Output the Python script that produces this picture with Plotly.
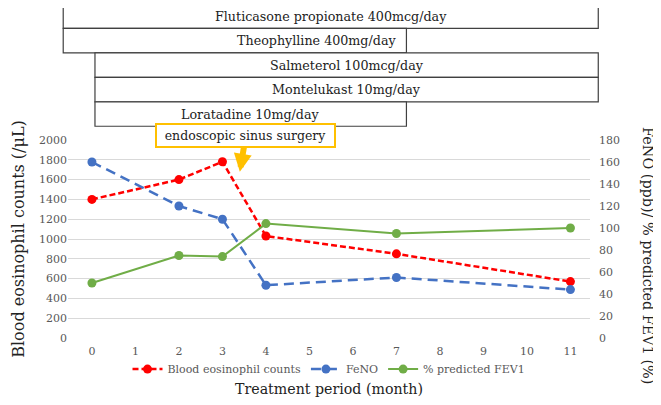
import plotly.graph_objects as go

months = [0, 2, 3, 4, 7, 11]
eosinophil = [1400, 1600, 1780, 1030, 850, 570]
feno = [160, 120, 108, 48, 55, 44]
fev1 = [50, 75, 74, 104, 95, 100]

treat_names = [
    "Fluticasone propionate 400mcg/day",
    "Theophylline 400mg/day",
    "Salmeterol 100mcg/day",
    "Montelukast 10mg/day",
    "Loratadine 10mg/day",
]
treat_start = [-0.66, -0.66, 0.07, 0.07, 0.07]
treat_end = [11.64, 7.23, 11.64, 11.64, 7.23]

surgery_month = 3.4
surgery_label = "endoscopic sinus surgery"

SERIF = "DejaVu Serif"
GRAY = "#595959"
X_RANGE = [-0.55, 11.45]


def month_to_paper(m):
    # boxes run past the plot edges, so place them in paper coords
    return (m - X_RANGE[0]) / (X_RANGE[1] - X_RANGE[0])


fig = go.Figure()

fig.add_trace(go.Scatter(
    x=months, y=eosinophil, name="Blood eosinophil counts",
    mode="lines+markers",
    line=dict(color="#ff0000", width=2.5, dash="6px,3px"),
    marker=dict(size=9, color="#ff0000"),
))
fig.add_trace(go.Scatter(
    x=months, y=feno, name="FeNO", yaxis="y2",
    mode="lines+markers",
    line=dict(color="#4472c4", width=2.5, dash="10px,6px"),
    marker=dict(size=9, color="#4472c4"),
))
fig.add_trace(go.Scatter(
    x=months, y=fev1, name="% predicted FEV1", yaxis="y2",
    mode="lines+markers",
    line=dict(color="#70ad47", width=2),
    marker=dict(size=9, color="#70ad47"),
))

# treatment timeline boxes above the plot
row_h = 0.1235
for i, (name, m0, m1) in enumerate(zip(treat_names, treat_start, treat_end)):
    top = 1.687 - i * row_h
    x0, x1 = month_to_paper(m0), month_to_paper(m1)
    fig.add_shape(type="rect", xref="paper", yref="paper",
                  x0=x0, x1=x1, y0=top - row_h, y1=top,
                  line=dict(color="#404040", width=1.2), fillcolor="white")
    fig.add_annotation(xref="paper", yref="paper", x=(x0 + x1) / 2,
                       y=top - row_h / 2, yanchor="middle", text=name,
                       showarrow=False,
                       font=dict(family=SERIF, size=12.7, color="#222"))

fig.add_annotation(
    x=surgery_month, y=1680, xref="x", yref="y",
    text=surgery_label, showarrow=True,
    ax=6, ay=-36, arrowhead=2, arrowsize=0.6, arrowwidth=6,
    arrowcolor="#ffc000", bordercolor="#ffc000", borderwidth=2,
    borderpad=3, bgcolor="white", width=171,
    font=dict(family=SERIF, size=12.5, color="#222"),
)

fig.add_annotation(
    xref="paper", yref="paper", x=1.111, y=0.414,
    xanchor="center", yanchor="middle",
    text="FeNO (ppb)/ % predicted FEV1 (%)", textangle=90,
    showarrow=False, font=dict(family=SERIF, size=14.4, color="#222"),
)

# the page body adds an 8px offset, so the figure is sized to fit the window
fig.update_layout(
    width=653, height=397,
    plot_bgcolor="white", paper_bgcolor="white",
    font=dict(family=SERIF, color=GRAY, size=11),
    margin=dict(l=60, r=71, t=132, b=67),
    showlegend=True,
    legend=dict(orientation="h", x=0.5, xanchor="center", y=-0.157,
                yanchor="middle", font=dict(size=11, color=GRAY),
                itemwidth=30, tracegroupgap=0),
    xaxis=dict(range=X_RANGE, dtick=1, showgrid=False, automargin=False,
               zeroline=False, showline=False, ticks="",
               ticklabelstandoff=5,
               title=dict(text="Treatment period (month)", standoff=27,
                          font=dict(size=14.2, color="#222"))),
    yaxis=dict(range=[0, 2000], dtick=200, gridcolor="#d9d9d9",
               automargin=False,
               zeroline=False, showline=False, ticks="",
               title=dict(text="Blood eosinophil counts (/μL)", standoff=10,
                          font=dict(size=16, color="#222"))),
    yaxis2=dict(range=[0, 180], dtick=20, overlaying="y", side="right",
                automargin=False, ticklabelstandoff=8,
                showgrid=False, zeroline=False, showline=False, ticks=""),
)

fig.write_html("out.html")
